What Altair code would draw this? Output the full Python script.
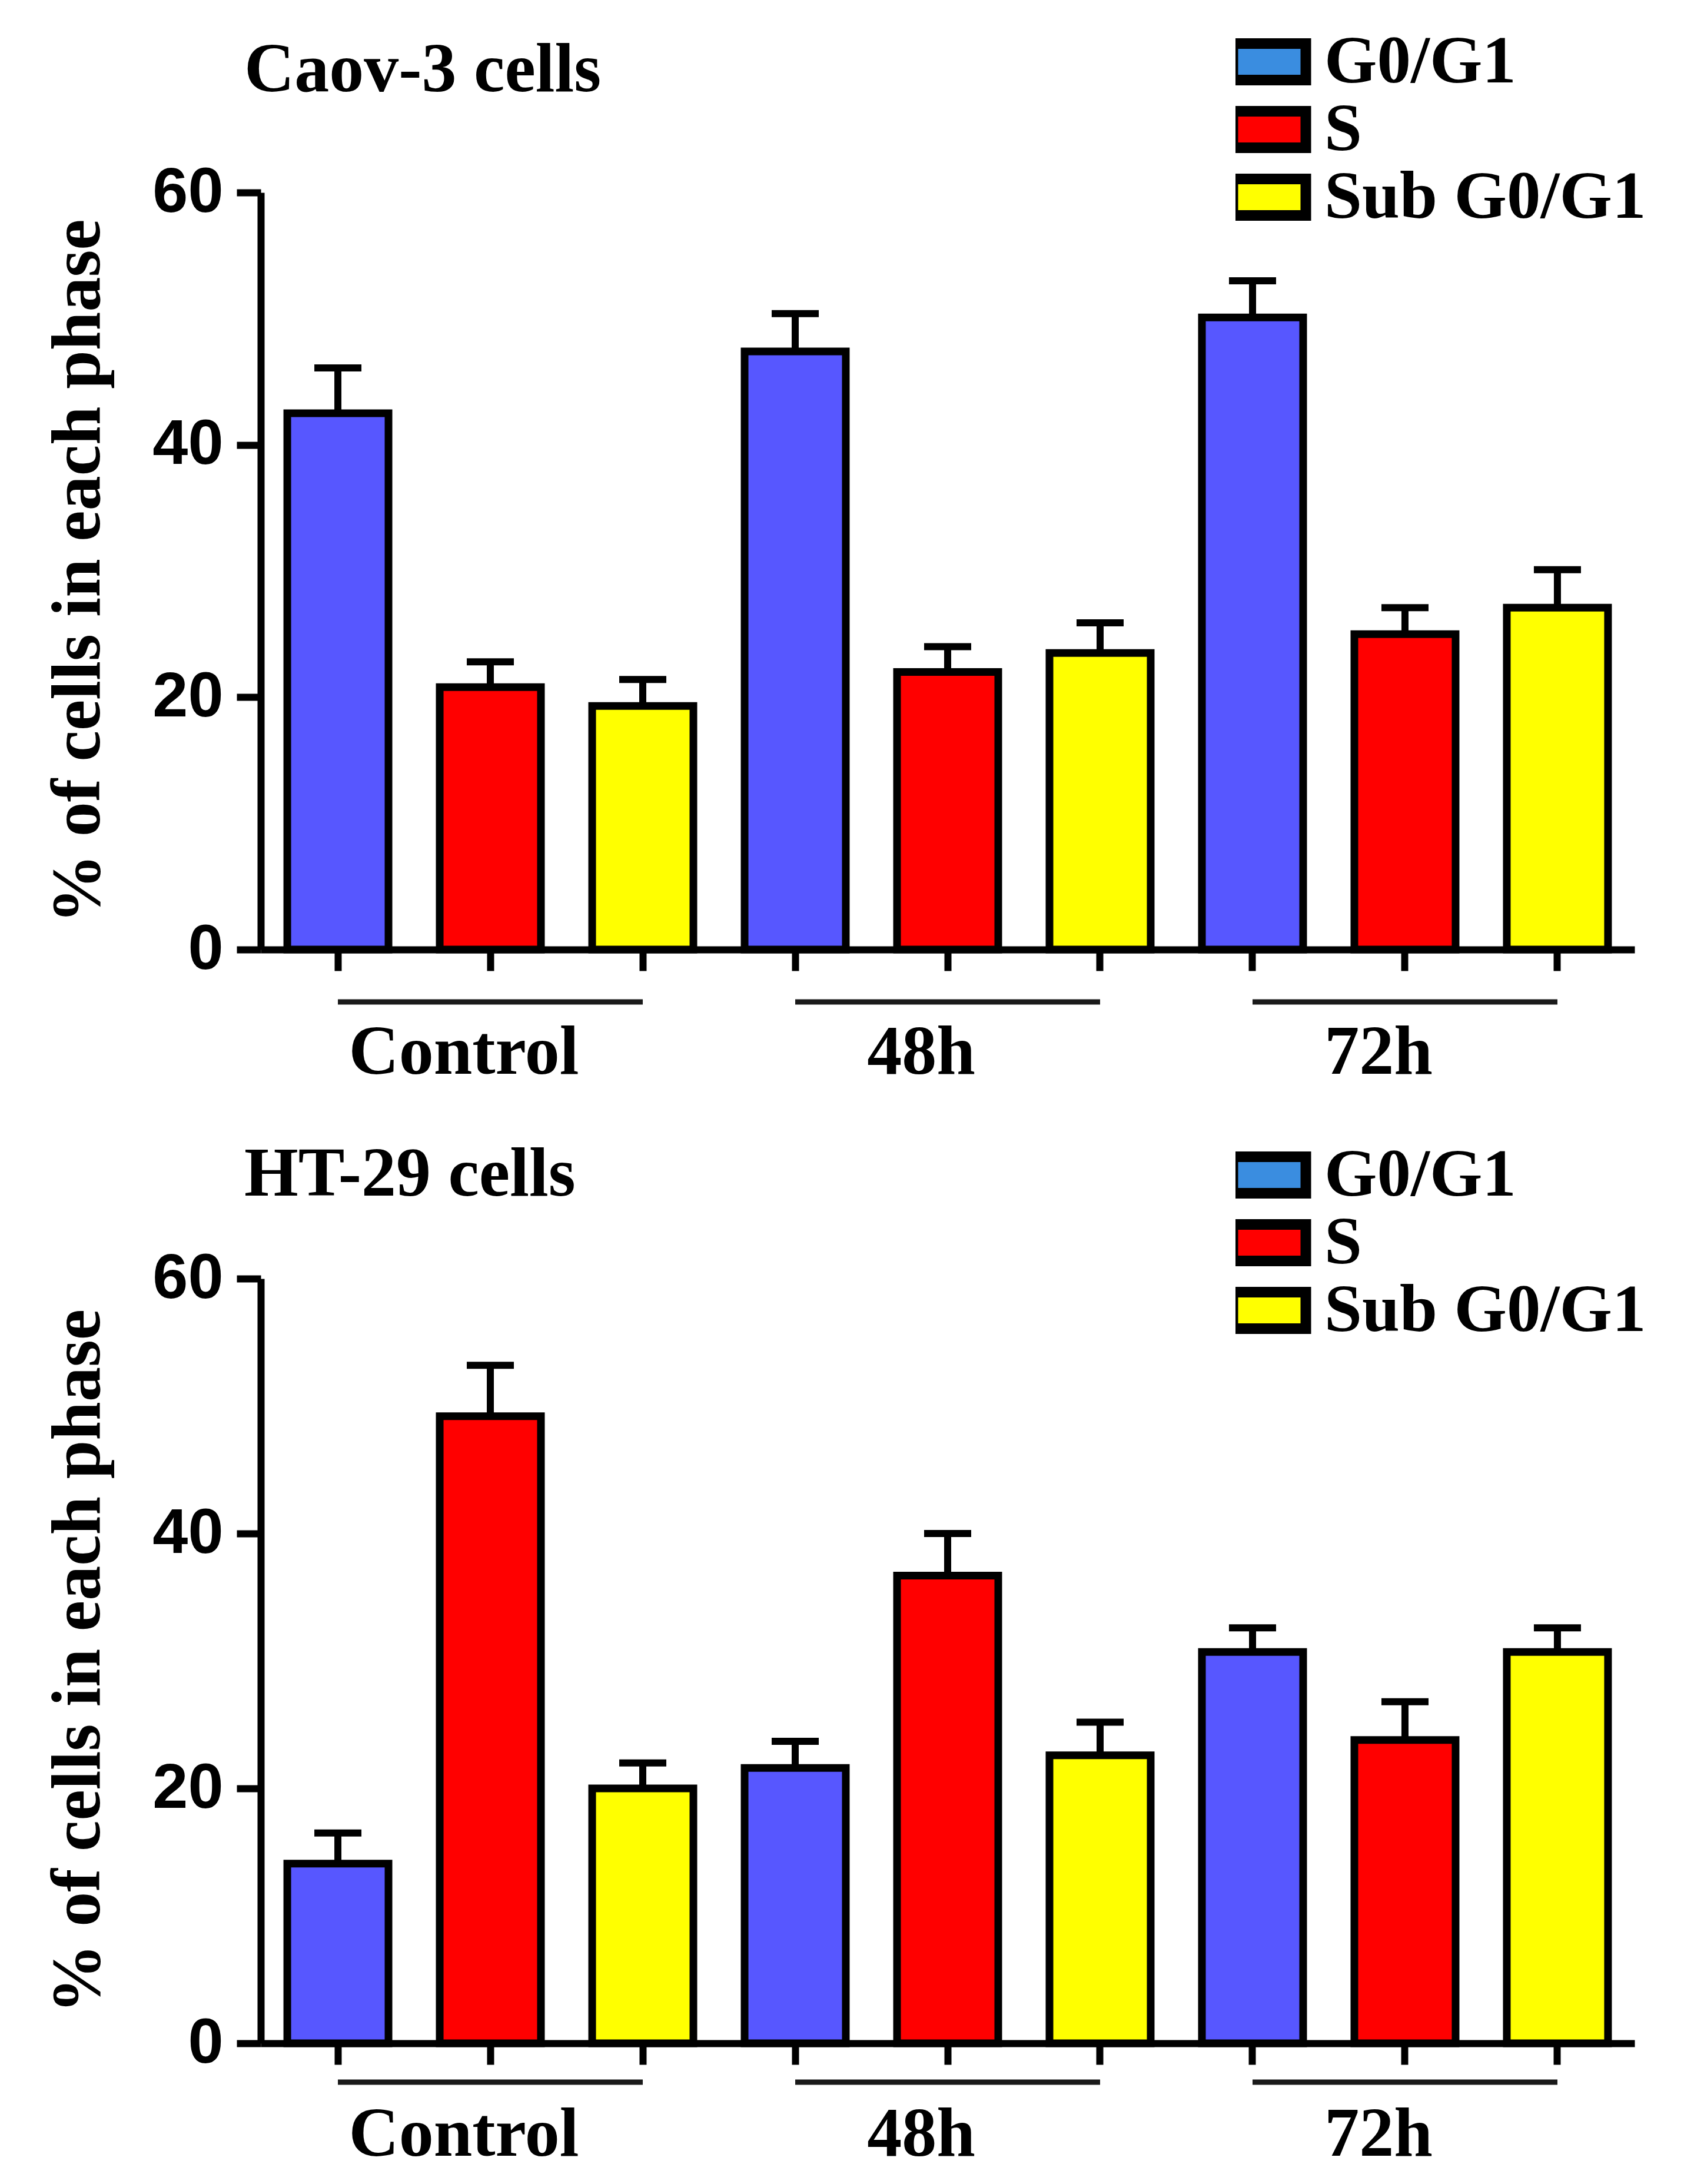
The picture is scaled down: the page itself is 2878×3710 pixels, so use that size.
import altair as alt
import pandas as pd

groups = ["Control", "48h", "72h"]
phases = ["G0/G1", "S", "Sub G0/G1"]

bar_colors = ["#5757ff", "#ff0000", "#ffff00"]
legend_colors = ["#3a8de0", "#ff0000", "#ffff00"]

# Caov-3 cells: mean and upper error, per group (Control, 48h, 72h)
caov3_g0g1 = [42.5, 47.4, 50.1]
caov3_g0g1_err = [3.6, 3.0, 2.9]
caov3_s = [20.8, 22.0, 25.0]
caov3_s_err = [2.0, 2.0, 2.1]
caov3_sub = [19.3, 23.5, 27.1]
caov3_sub_err = [2.1, 2.4, 3.0]

# HT-29 cells
ht29_g0g1 = [14.1, 21.6, 30.7]
ht29_g0g1_err = [2.4, 2.1, 1.9]
ht29_s = [49.2, 36.7, 23.8]
ht29_s_err = [4.0, 3.3, 3.0]
ht29_sub = [20.0, 22.6, 30.7]
ht29_sub_err = [2.0, 2.6, 1.9]

y_ticks = [0, 20, 40, 60]

slots = [f"{g}|{p}" for g in groups for p in phases]
W = 2334
SERIF = "Liberation Serif"
SANS = "Liberation Sans"


def make_df(means, errs):
    rows = []
    for p, m_list, e_list in zip(phases, means, errs):
        for g, m, e in zip(groups, m_list, e_list):
            rows.append({"group": g, "phase": p, "slot": f"{g}|{p}",
                         "mean": m, "upper": m + e})
    return pd.DataFrame(rows)


def panel(title, means, errs, height, legend_y, title_y, line_dy, label_dy):
    df = make_df(means, errs)
    spans = pd.DataFrame({
        "group": groups,
        "first": [f"{g}|{phases[0]}" for g in groups],
        "mid": [f"{g}|{phases[1]}" for g in groups],
        "last": [f"{g}|{phases[2]}" for g in groups],
    })

    xscale = alt.Scale(domain=slots, paddingInner=0.336, paddingOuter=0.174)
    xaxis = alt.Axis(labels=False, title=None, tickSize=36, tickWidth=12,
                     domainWidth=12, tickColor="black", domainColor="black")
    yscale = alt.Scale(domain=[0, 60], nice=False)
    yaxis = alt.Axis(values=y_ticks, tickSize=41, tickWidth=12, domainWidth=12,
                     tickColor="black", domainColor="black", grid=False,
                     labelFont=SANS, labelFontWeight="bold", labelFontSize=108,
                     labelColor="black", labelPadding=23,
                     title="% of cells in each phase", titleFont=SERIF,
                     titleFontSize=118, titleFontWeight="bold",
                     titleColor="black", titlePadding=65)

    base = alt.Chart(df)
    err_line = base.mark_rule(color="black", strokeWidth=12).encode(
        x=alt.X("slot:N", scale=xscale, axis=xaxis),
        y=alt.Y("mean:Q", scale=yscale, axis=yaxis),
        y2="upper:Q",
    )
    err_cap = base.mark_tick(color="black", size=80, thickness=12, opacity=1).encode(
        x=alt.X("slot:N", scale=xscale, axis=xaxis),
        y=alt.Y("upper:Q", scale=yscale, axis=yaxis),
    )
    bars = base.mark_bar(stroke="black", strokeWidth=13).encode(
        x=alt.X("slot:N", scale=xscale, axis=xaxis),
        y=alt.Y("mean:Q", scale=yscale, axis=yaxis),
        color=alt.Color("phase:N", scale=alt.Scale(domain=phases, range=bar_colors),
                        legend=None),
    )
    # invisible layer that only carries the legend (its swatch blue differs)
    legend_layer = base.mark_bar(opacity=0).encode(
        x=alt.X("slot:N", scale=xscale, axis=xaxis),
        y=alt.Y("mean:Q", scale=yscale, axis=yaxis),
        fill=alt.Fill("phase:N", sort=phases,
                      scale=alt.Scale(range=legend_colors),
                      legend=alt.Legend(
                          orient="none", legendX=1656, legendY=legend_y,
                          title=None, padding=0,
                          symbolType="M-2,-1H2V1H-2Z", symbolSize=3844,
                          symbolStrokeColor="black", symbolStrokeWidth=18,
                          symbolOpacity=1,
                          labelFont=SERIF, labelFontWeight="bold",
                          labelFontSize=115, labelColor="black",
                          labelOffset=36, labelLimit=1000,
                          clipHeight=108, rowPadding=0)),
    )
    lines = alt.Chart(spans).mark_rule(color="#1a1a1a", strokeWidth=9).encode(
        x=alt.X("first:N", scale=xscale, axis=xaxis),
        x2="last:N",
        y=alt.value(height + line_dy),
    )
    labels = alt.Chart(spans).mark_text(
        font=SERIF, fontWeight="bold", fontSize=118, color="black",
        baseline="alphabetic", dx=-45,
    ).encode(
        x=alt.X("mid:N", scale=xscale, axis=xaxis),
        y=alt.value(height + label_dy),
        text="group:N",
    )
    heading = alt.Chart(pd.DataFrame({"title": [title]})).mark_text(
        font=SERIF, fontWeight="bold", fontSize=118, color="black",
        align="left", baseline="alphabetic",
    ).encode(
        x=alt.value(-28),
        y=alt.value(title_y),
        text="title:N",
    )

    return alt.layer(err_line, err_cap, bars, legend_layer, lines, labels,
                     heading).properties(width=W, height=height)


top = panel("Caov-3 cells",
            [caov3_g0g1, caov3_s, caov3_sub],
            [caov3_g0g1_err, caov3_s_err, caov3_sub_err],
            1286, -276, -172, 89, 211)
bottom = panel("HT-29 cells",
               [ht29_g0g1, ht29_s, ht29_sub],
               [ht29_g0g1_err, ht29_s_err, ht29_sub_err],
               1299, -230, -141, 66, 191)

chart = alt.vconcat(top, bottom, spacing=559, bounds="flush").resolve_scale(
    color="independent", fill="independent"
).resolve_legend(
    fill="independent"
).properties(
    padding={"left": 66, "top": 43, "right": 20, "bottom": 20},
    background="white",
).configure_view(strokeWidth=0)

chart.save("out.html", embed_options={"renderer": "svg", "actions": False})
